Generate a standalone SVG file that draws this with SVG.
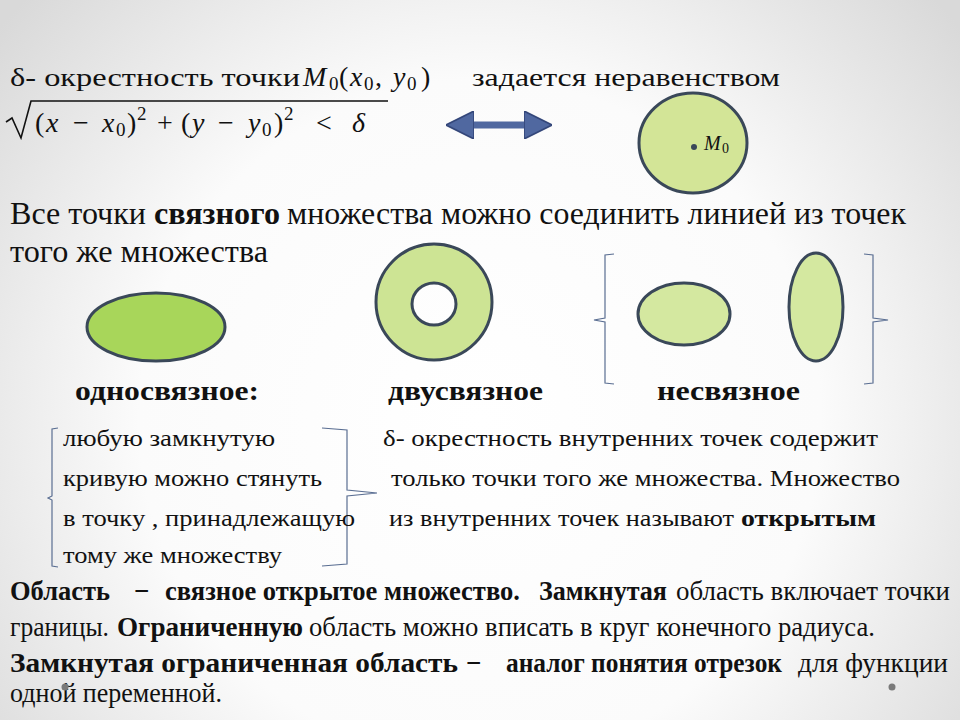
<svg xmlns="http://www.w3.org/2000/svg" width="960" height="720" viewBox="0 0 960 720">
<defs>
<radialGradient id="bg" cx="480" cy="420" r="620" gradientUnits="userSpaceOnUse">
<stop offset="0" stop-color="#ffffff"/>
<stop offset="0.55" stop-color="#fbfbfb"/>
<stop offset="1" stop-color="#d9d9d9"/>
</radialGradient>
<marker id="ah" viewBox="0 0 10 10" refX="5" refY="5" markerWidth="4" markerHeight="4" orient="auto-start-reverse" markerUnits="strokeWidth">
<path d="M0,0 L10,5 L0,10 z" fill="#5068a0" stroke="#34477a" stroke-width="0.6"/>
</marker>
</defs>
<style>
text{fill:#111}
.b{font-weight:bold}
.i{font-style:italic}
.shape{stroke:#3a4859;stroke-width:3}
.br{fill:none;stroke:#5a6e92;stroke-width:1.2}
</style>
<rect width="960" height="720" fill="url(#bg)"/>

<g id="header" font-family="Liberation Serif, serif">
<text x="10" y="86" font-size="26" textLength="290" lengthAdjust="spacingAndGlyphs">δ- окрестность точки</text>
<text font-size="28" y="86"><tspan class="i" x="303">M</tspan><tspan font-size="19" x="329" dy="4">0</tspan><tspan x="339" dy="-4">(</tspan><tspan class="i" x="350">x</tspan><tspan font-size="19" x="364" dy="4">0</tspan><tspan x="375" dy="-4">,</tspan><tspan class="i" x="393">y</tspan><tspan font-size="19" x="407" dy="4">0</tspan><tspan x="421" dy="-4">)</tspan></text>
<text x="472" y="86" font-size="26" textLength="308" lengthAdjust="spacingAndGlyphs">задается неравенством</text>
</g>

<g id="formula" font-family="Liberation Serif, serif">
<path d="M6,122 L12,118 L21,138 L31,101 L388,101" fill="none" stroke="#111" stroke-width="1.6"/>
<text font-size="28" y="132"><tspan x="35">(</tspan><tspan class="i" x="46">x</tspan><tspan x="73">−</tspan><tspan class="i" x="102">x</tspan><tspan font-size="19" x="116" dy="4">0</tspan><tspan x="127" dy="-4">)</tspan><tspan font-size="19" x="137" dy="-12">2</tspan><tspan x="157" dy="12">+</tspan><tspan x="181">(</tspan><tspan class="i" x="192">y</tspan><tspan x="218">−</tspan><tspan class="i" x="248">y</tspan><tspan font-size="19" x="262" dy="4">0</tspan><tspan x="274" dy="-4">)</tspan><tspan font-size="19" x="284" dy="-12">2</tspan><tspan x="316" dy="12">&lt;</tspan><tspan class="i" x="352">δ</tspan></text>
</g>

<g id="connectors">
<line x1="460" y1="125" x2="538" y2="125" stroke="#5068a0" stroke-width="7" marker-start="url(#ah)" marker-end="url(#ah)"/>
</g>

<g id="neighbourhood">
<ellipse cx="693" cy="143" rx="54" ry="50" fill="#d3e597" class="shape"/>
<circle cx="694" cy="147" r="3" fill="#3a4859"/>
<text font-size="20" y="150" font-family="Liberation Serif, serif"><tspan class="i" x="704">M</tspan><tspan font-size="14" x="722" dy="3">0</tspan></text>
</g>

<g id="connected-text" font-family="Liberation Serif, serif">
<text x="10" y="224" font-size="31" textLength="136" lengthAdjust="spacingAndGlyphs">Все точки</text>
<text class="b" x="154" y="224" font-size="31" textLength="126" lengthAdjust="spacingAndGlyphs">связного</text>
<text x="287" y="224" font-size="31" textLength="619" lengthAdjust="spacingAndGlyphs">множества можно соединить линией из точек</text>
<text x="10" y="262" font-size="31" textLength="258" lengthAdjust="spacingAndGlyphs">того же множества</text>
</g>

<g id="simply-connected">
<ellipse cx="156" cy="327" rx="69" ry="34" fill="#a8d65a" class="shape"/>
<text class="b" x="75" y="400" font-size="27" textLength="184" lengthAdjust="spacingAndGlyphs" font-family="Liberation Serif, serif">односвязное:</text>
</g>

<g id="doubly-connected">
<path d="M376,302 a58,58 0 1,0 116,0 a58,58 0 1,0 -116,0 z M412,304 a22,21 0 1,1 44,0 a22,21 0 1,1 -44,0 z" fill="#cde494" fill-rule="evenodd" class="shape"/>
<text class="b" x="388" y="400" font-size="27" textLength="155" lengthAdjust="spacingAndGlyphs" font-family="Liberation Serif, serif">двусвязное</text>
</g>

<g id="disconnected">
<path class="br" d="M614,254 L605,255 L605,318 L594,320 L605,322 L605,383 L614,384"/>
<path class="br" d="M864,254 L873,255 L873,318 L888,320 L873,322 L873,383 L864,384"/>
<ellipse cx="684" cy="314" rx="46" ry="31" fill="#d4e8a0" class="shape"/>
<ellipse cx="816" cy="307" rx="27" ry="54" fill="#d4e8a0" class="shape"/>
<text class="b" x="657" y="400" font-size="27" textLength="143" lengthAdjust="spacingAndGlyphs" font-family="Liberation Serif, serif">несвязное</text>
</g>

<g id="simply-def" font-family="Liberation Serif, serif">
<path class="br" d="M58,428 L52,429 L52,496 L48,498 L52,500 L52,566 L58,567"/>
<path class="br" d="M322,428 L347,430 L347,490 L377,493 L347,496 L347,564 L322,566"/>
<text x="63" y="446" font-size="23" textLength="212" lengthAdjust="spacingAndGlyphs">любую замкнутую</text>
<text x="63" y="486" font-size="23" textLength="259" lengthAdjust="spacingAndGlyphs">кривую можно стянуть</text>
<text x="63" y="526" font-size="23" textLength="292" lengthAdjust="spacingAndGlyphs">в точку , принадлежащую</text>
<text x="63" y="563" font-size="23" textLength="219" lengthAdjust="spacingAndGlyphs">тому же множеству</text>
</g>

<g id="open-def" font-family="Liberation Serif, serif">
<text x="383" y="446" font-size="23" textLength="495" lengthAdjust="spacingAndGlyphs">δ- окрестность внутренних точек содержит</text>
<text x="391" y="486" font-size="23" textLength="509" lengthAdjust="spacingAndGlyphs">только точки того же множества. Множество</text>
<text x="389" y="526" font-size="23" textLength="345" lengthAdjust="spacingAndGlyphs">из внутренних точек называют</text>
<text class="b" x="741" y="526" font-size="23" textLength="135" lengthAdjust="spacingAndGlyphs">открытым</text>
</g>

<g id="region-def" font-family="Liberation Serif, serif">
<text class="b" x="10" y="600" font-size="27" textLength="100" lengthAdjust="spacingAndGlyphs">Область</text>
<text class="b" x="134" y="600" font-size="27">−</text>
<text class="b" x="165" y="600" font-size="27" textLength="355" lengthAdjust="spacingAndGlyphs">связное открытое множество.</text>
<text class="b" x="539" y="600" font-size="27" textLength="128" lengthAdjust="spacingAndGlyphs">Замкнутая</text>
<text x="676" y="600" font-size="27" textLength="274" lengthAdjust="spacingAndGlyphs">область включает точки</text>
<text x="10" y="636" font-size="27" textLength="99" lengthAdjust="spacingAndGlyphs">границы.</text>
<text class="b" x="117" y="636" font-size="27" textLength="186" lengthAdjust="spacingAndGlyphs">Ограниченную</text>
<text x="309" y="636" font-size="27" textLength="566" lengthAdjust="spacingAndGlyphs">область можно вписать в круг конечного радиуса.</text>
<text class="b" x="10" y="672" font-size="27" textLength="448" lengthAdjust="spacingAndGlyphs">Замкнутая ограниченная область</text>
<text class="b" x="466" y="672" font-size="27">−</text>
<text class="b" x="506" y="672" font-size="27" textLength="276" lengthAdjust="spacingAndGlyphs">аналог понятия отрезок</text>
<text x="798" y="672" font-size="27" textLength="150" lengthAdjust="spacingAndGlyphs">для функции</text>
<text x="10" y="702" font-size="27" textLength="212" lengthAdjust="spacingAndGlyphs">одной переменной.</text>
</g>

<g id="dots">
<circle cx="65" cy="687" r="3.5" fill="#7a7a7a"/>
<circle cx="892" cy="687" r="3.5" fill="#7a7a7a"/>
</g>
</svg>
